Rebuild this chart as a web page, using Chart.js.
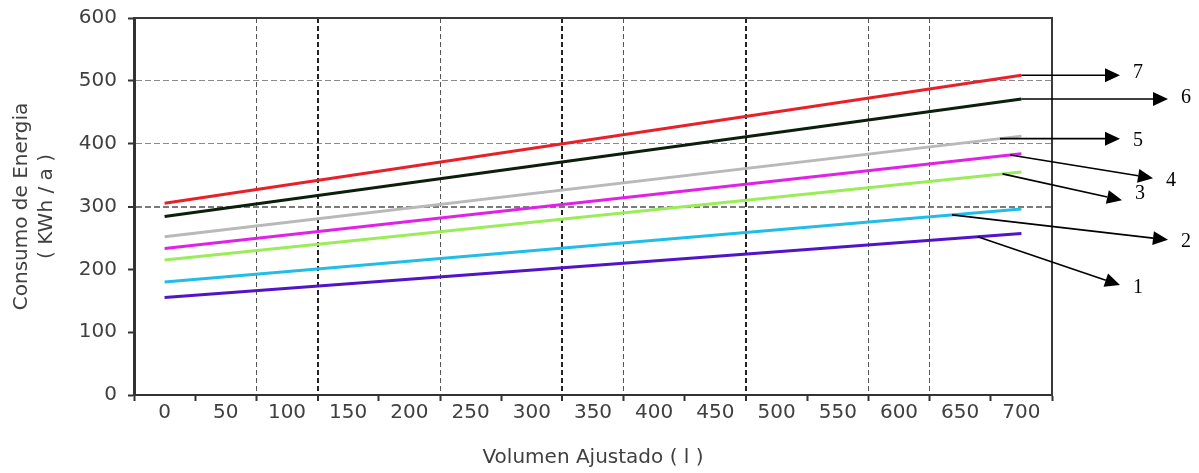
<!DOCTYPE html>
<html>
<head>
<meta charset="utf-8">
<script src="https://cdn.jsdelivr.net/npm/chart.js@4/dist/chart.umd.min.js"></script>
<style>
  html, body { margin: 0; padding: 0; background: #ffffff; }
  #wrap { width: 1199px; height: 473px; position: relative; }
</style>
</head>
<body>
<div id="wrap"><canvas id="c" width="1199" height="473"></canvas></div>
<script>
// ---- data ----
const categories = ['0','50','100','150','200','250','300','350','400','450','500','550','600','650','700'];
// each line is straight: only its two ends are read, the rest are gaps spanned by the line
const serie1 = [155, null, null, null, null, null, null, null, null, null, null, null, null, null, 257];
const serie2 = [180, null, null, null, null, null, null, null, null, null, null, null, null, null, 296];
const serie3 = [215, null, null, null, null, null, null, null, null, null, null, null, null, null, 355];
const serie4 = [233, null, null, null, null, null, null, null, null, null, null, null, null, null, 384];
const serie5 = [252, null, null, null, null, null, null, null, null, null, null, null, null, null, 412];
const serie6 = [284, null, null, null, null, null, null, null, null, null, null, null, null, null, 471];
const serie7 = [305, null, null, null, null, null, null, null, null, null, null, null, null, null, 509];
const serieLabels = ['1','2','3','4','5','6','7'];
const yTicks = [0, 100, 200, 300, 400, 500, 600];
const yTitle = ['Consumo de Energia', '( KWh / a )'];
const xTitle = 'Volumen Ajustado ( l )';

// ---- styling ----
const lineColors = ['#5214c8', '#22bde6', '#9aec5a', '#e022e6', '#b9b9b9', '#0c1f0c', '#e8202a'];
const series = [serie1, serie2, serie3, serie4, serie5, serie6, serie7];

// vertical grid lines shown at these category boundaries (bold ones darker)
const vGridOn = {2:1, 3:2, 5:1, 7:2, 8:1, 10:2, 12:1, 13:1};

// callouts: dataset index, fraction along the line for the start, tip offset from plot right,
// tip value (null = horizontal), label vertical nudge
const callouts = [
  {ds:0, t:0.949, dx:68,  tipV:175, dy:3},
  {ds:1, t:0.919, dx:116, tipV:247, dy:2},
  {ds:2, t:0.978, dx:70,  tipV:310, dy:-6},
  {ds:3, t:0.987, dx:101, tipV:345, dy:3},
  {ds:4, t:0.975, dx:68,  tipV:null, dy:2},
  {ds:5, t:1.0,   dx:116, tipV:null, dy:-1},
  {ds:6, t:1.0,   dx:68,  tipV:null, dy:-2}
];

const framePlugin = {
  id: 'frame',
  afterDatasetsDraw(chart) {
    const {ctx, chartArea: a} = chart;
    ctx.save();
    ctx.strokeStyle = '#3a3a3a';
    ctx.lineWidth = 2;
    ctx.beginPath();
    ctx.moveTo(a.left, a.top);
    ctx.lineTo(a.right, a.top);
    ctx.lineTo(a.right, a.bottom);
    ctx.stroke();
    ctx.restore();
  },
  afterDraw(chart) {
    const {ctx, chartArea: a, scales: {y}} = chart;
    ctx.save();
    ctx.strokeStyle = '#000';
    ctx.fillStyle = '#000';
    ctx.lineWidth = 1.6;
    ctx.font = '20px "Liberation Serif", "Times New Roman", serif';
    ctx.textAlign = 'left';
    ctx.textBaseline = 'middle';
    callouts.forEach((c) => {
      const meta = chart.getDatasetMeta(c.ds);
      const p0 = meta.data[0], p1 = meta.data[meta.data.length - 1];
      const sx = p0.x + (p1.x - p0.x) * c.t;
      const sy = p0.y + (p1.y - p0.y) * c.t;
      const tx = a.right + c.dx;
      const ty = c.tipV == null ? sy : y.getPixelForValue(c.tipV);
      const ang = Math.atan2(ty - sy, tx - sx);
      const L = 15, W = 7;
      const bx = tx - L * Math.cos(ang), by = ty - L * Math.sin(ang);
      ctx.beginPath();
      ctx.moveTo(sx, sy);
      ctx.lineTo(bx, by);
      ctx.stroke();
      ctx.beginPath();
      ctx.moveTo(tx, ty);
      ctx.lineTo(bx + W * Math.sin(ang), by - W * Math.cos(ang));
      ctx.lineTo(bx - W * Math.sin(ang), by + W * Math.cos(ang));
      ctx.closePath();
      ctx.fill();
      ctx.fillText(serieLabels[c.ds], tx + 13, ty + c.dy);
    });
    ctx.restore();
  }
};

const textColor = '#404040';
const fontFamily = '"DejaVu Sans", "Liberation Sans", Arial, sans-serif';

new Chart(document.getElementById('c'), {
  type: 'line',
  data: {
    labels: categories,
    datasets: series.map((s, i) => ({
      label: serieLabels[i],
      data: s,
      borderColor: lineColors[i],
      borderWidth: 3,
      pointRadius: 0,
      spanGaps: true,
      tension: 0,
      fill: false
    }))
  },
  options: {
    responsive: false,
    animation: false,
    events: [],
    layout: { padding: { top: 18, right: 147, left: 0, bottom: 0 } },
    plugins: { legend: { display: false }, tooltip: { enabled: false } },
    scales: {
      x: {
        type: 'category',
        offset: true,
        grid: {
          offset: true,
          drawTicks: true,
          tickLength: 6,
          tickColor: '#333',
          tickWidth: 2,
          color: (ctx) => vGridOn[ctx.index] === 2 ? '#222' : (vGridOn[ctx.index] ? '#555' : 'rgba(0,0,0,0)'),
          lineWidth: (ctx) => vGridOn[ctx.index] === 2 ? 2 : 1
        },
        border: { display: true, color: '#333', width: 2, dash: [5, 3] },
        ticks: {
          color: textColor,
          font: { family: fontFamily, size: 20 },
          padding: 0,
          maxRotation: 0,
          autoSkip: false
        },
        title: {
          display: true,
          text: xTitle,
          color: textColor,
          font: { family: fontFamily, size: 20 },
          padding: { top: 0, bottom: 3 }
        },
        afterFit(scale) { scale.height = 78; scale.paddingLeft = 0; scale.paddingRight = 0; }
      },
      y: {
        min: 0,
        max: 600,
        afterBuildTicks(scale) { scale.ticks = yTicks.map(v => ({ value: v })); },
        grid: {
          drawTicks: true,
          tickLength: 6,
          tickColor: '#333',
          tickWidth: 2,
          color: (ctx) => {
            const v = ctx.tick ? ctx.tick.value : null;
            if (v === 300) return '#7a7a7a';
            if (v === 400 || v === 500) return '#8a8a8a';
            return 'rgba(0,0,0,0)';
          },
          lineWidth: (ctx) => (ctx.tick && ctx.tick.value === 300) ? 2 : 1
        },
        border: { display: true, color: '#333', width: 3, dash: [6, 3] },
        ticks: {
          color: textColor,
          font: { family: fontFamily, size: 20 },
          padding: 11
        },
        title: {
          display: true,
          text: yTitle,
          color: textColor,
          font: { family: fontFamily, size: 20, lineHeight: 25 / 20 },
          padding: { top: 9.5, bottom: 0 }
        },
        afterFit(scale) { scale.width = 134; scale.paddingTop = 0; scale.paddingBottom = 0; }
      }
    }
  },
  plugins: [framePlugin]
});
</script>
</body>
</html>
